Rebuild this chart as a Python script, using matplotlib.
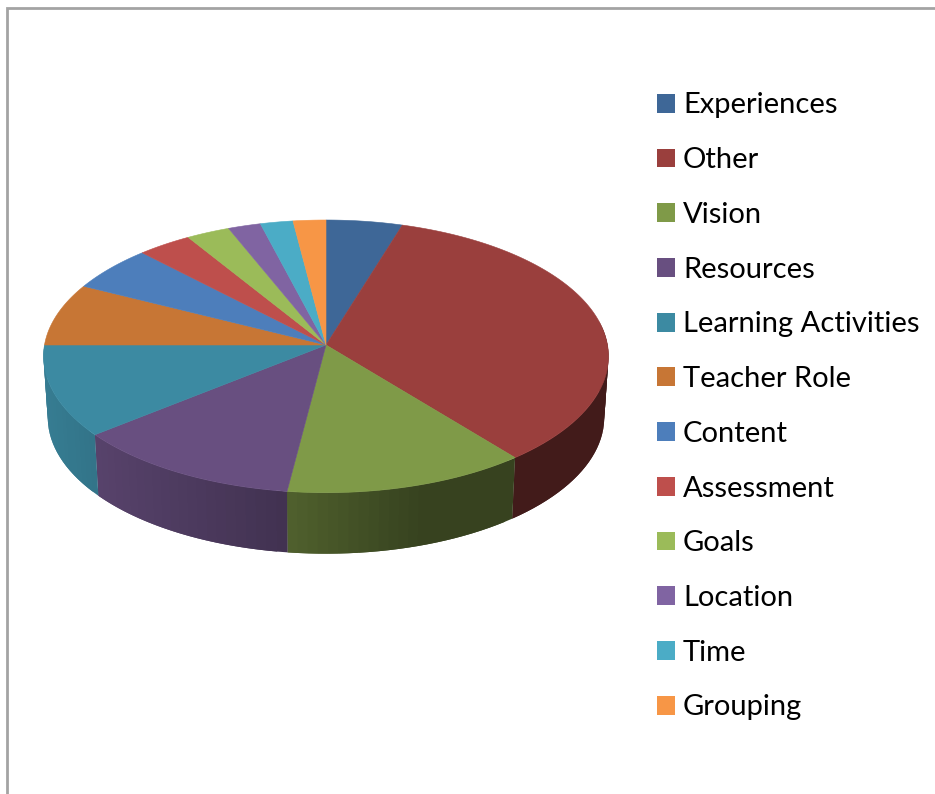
import numpy as np
import matplotlib
matplotlib.use("Agg")
import matplotlib.pyplot as plt
from matplotlib.patches import Patch
from matplotlib.lines import Line2D

categories = ["Experiences", "Other", "Vision", "Resources", "Learning Activities",
              "Teacher Role", "Content", "Assessment", "Goals", "Location", "Time", "Grouping"]
counts = [7, 51, 19, 18, 16, 11, 8, 5, 4, 3, 3, 3]
colors = ["#3E6797", "#9A3F3D", "#7F9A48", "#684F80", "#3C8AA2", "#C77635",
          "#4D7EBB", "#BE4F4C", "#9BBB59", "#8064A2", "#4BACC6", "#F79646"]

W, H = 935, 794
CX, CY, A, B, K = 326.0, 345.0, 281.5, 135.4, 0.0832
DEPTH, BOTTOM_SCALE = 61.0, 0.985
SHADE_X = [45, 95, 285, 420, 610]
SHADE_V = [0.90, 0.84, 0.63, 0.43, 0.43]


def project(theta):
    """Clockwise angle from 12 o'clock on the disc -> picture coordinates."""
    u, v = np.sin(theta), np.cos(theta)
    w = 1 + K * v
    return CX + A * u / w, CY - B * v / w


fig = plt.figure(figsize=(W / 100, H / 100), dpi=100, facecolor="white")
ax = fig.add_axes([0, 0, 1, 1])
ax.set_xlim(0, W)
ax.set_ylim(H, 0)
ax.axis("off")

# chart frame (top and left visible)
ax.add_line(Line2D([7, 7, W], [H, 8, 8], color="#A3A3A3", lw=2.0, solid_joinstyle="miter"))

edges = np.radians(np.cumsum([0] + counts) / sum(counts) * 360)

# side wall: front half only, strips overlap so no seams appear
for i, c in enumerate(colors):
    lo, hi = max(edges[i], np.radians(80)), min(edges[i + 1], np.radians(270))
    if hi <= lo:
        continue
    n = max(3, int(np.degrees(hi - lo) / 2) + 2)
    ts = np.linspace(lo, hi, n)
    base = np.array(matplotlib.colors.to_rgb(c))
    for j in range(n - 1):
        seg = ts[j:j + 3]
        xs, ys = project(seg)
        bxs = CX + (xs - CX) * BOTTOM_SCALE
        s = np.interp(project(ts[j:j + 2])[0].mean(), SHADE_X, SHADE_V)
        ax.fill(np.r_[xs, bxs[::-1]], np.r_[ys, (ys + DEPTH)[::-1]],
                facecolor=base * s, edgecolor="none", lw=0, zorder=2)

# top face
for i, c in enumerate(colors):
    n = max(3, int(np.degrees(edges[i + 1] - edges[i])) * 2)
    ts = np.linspace(edges[i], edges[i + 1], n)
    xs, ys = project(ts)
    ax.fill(np.r_[CX, xs], np.r_[CY, ys], facecolor=c, edgecolor=c, lw=0.4, zorder=3)

# legend
FONT_PX = 29.1
fs = FONT_PX * 72 / 100
handles = [Patch(facecolor=c, edgecolor="none") for c in colors]
ax.legend(handles, categories, loc="upper left", bbox_to_anchor=(657, 92.5),
          bbox_transform=ax.transData, frameon=False, borderpad=0, borderaxespad=0,
          prop={"family": "Lato", "size": fs},
          handlelength=18 / FONT_PX, handleheight=18 / FONT_PX,
          handletextpad=8 / FONT_PX, labelspacing=0.987, labelcolor="black")

fig.savefig("out.png", dpi=100, facecolor="white")
